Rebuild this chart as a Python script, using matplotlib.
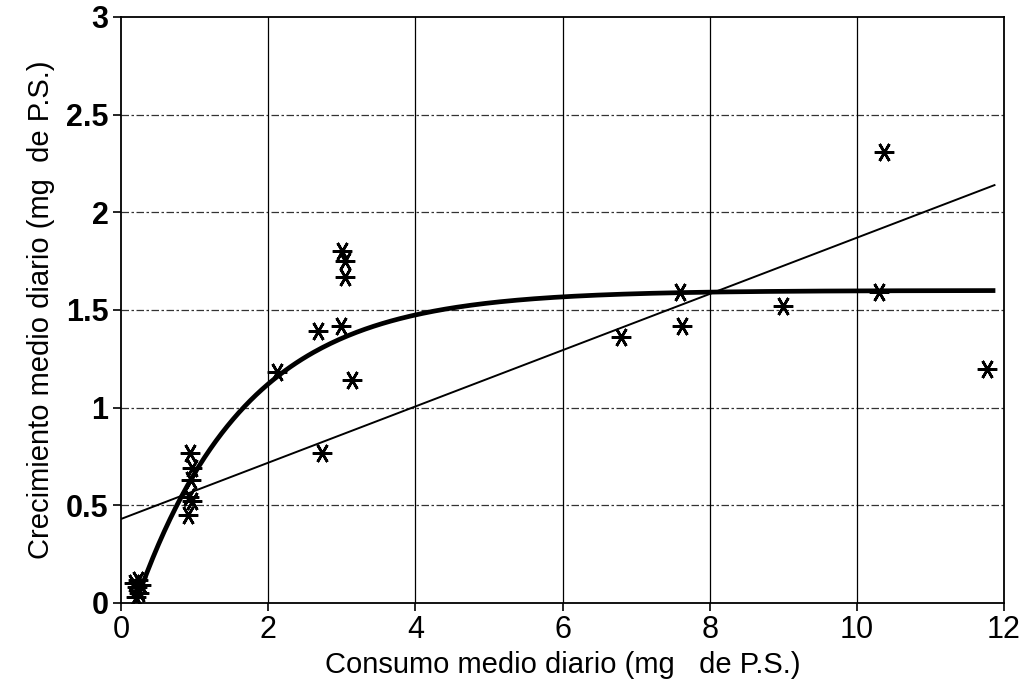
import numpy as np
import matplotlib
matplotlib.use("Agg")
import matplotlib.pyplot as plt

plt.rcParams['font.family'] = ['Liberation Sans', 'DejaVu Sans']

# Observed data (consumo, crecimiento)
consumo = [0.18, 0.22, 0.25, 0.20, 0.27, 0.23,
           0.94, 0.96, 0.95, 0.92, 0.96, 0.91,
           2.12, 3.00, 3.04, 3.04, 2.68, 2.99, 3.14, 2.73,
           6.79, 7.60, 7.62, 9.00, 10.30, 10.37, 11.77]
crecimiento = [0.10, 0.08, 0.05, 0.03, 0.09, 0.12,
               0.77, 0.69, 0.63, 0.54, 0.52, 0.45,
               1.18, 1.80, 1.75, 1.67, 1.39, 1.42, 1.14, 0.77,
               1.36, 1.59, 1.42, 1.52, 1.59, 2.31, 1.20]

# Fitted models
asym, rate, x0 = 1.60, 0.67, 0.20      # saturating curve
lin_a, lin_b = 0.43, 0.144             # linear regression
curve_range = (0.20, 11.85)
line_range = (0.0, 11.87)

x_ticks = [0, 2, 4, 6, 8, 10, 12]
y_ticks = [0, 0.5, 1, 1.5, 2, 2.5, 3]
y_tick_labels = ['0', '0.5', '1', '1.5', '2', '2.5', '3']

fig = plt.figure(figsize=(10.28, 6.93), dpi=100)
ax = fig.add_axes([0.1177, 0.1299, 0.8590, 0.8456])

xc = np.linspace(*curve_range, 300)
ax.plot(xc, asym * (1 - np.exp(-rate * (xc - x0))), color='black', lw=3.4, zorder=3)
xl = np.array(line_range)
ax.plot(xl, lin_a + lin_b * xl, color='black', lw=1.4, zorder=3)

ax.plot(consumo, crecimiento, linestyle='none', marker=(6, 2, 90), markersize=14,
        markeredgewidth=1.9, color='black', zorder=4)

ax.set_xlim(0, 12)
ax.set_ylim(0, 3)
ax.set_xticks(x_ticks)
ax.set_yticks(y_ticks)
ax.set_yticklabels(y_tick_labels)

for v in x_ticks[1:-1]:
    ax.axvline(v, color='black', lw=0.9, zorder=1)
for v in y_ticks[1:-1]:
    ax.axhline(v, color='black', lw=0.9, linestyle=(0, (6, 2, 2, 2)), alpha=0.8, zorder=1)

for s in ax.spines.values():
    s.set_linewidth(1.3)

ax.tick_params(axis='both', direction='out', length=6, width=1.2, pad=3)
for lab in ax.get_yticklabels():
    lab.set_fontsize(22)
    lab.set_fontweight('bold')
for lab in ax.get_xticklabels():
    lab.set_fontsize(22)
ax.set_xlabel('Consumo medio diario (mg   de P.S.)', fontsize=21, labelpad=4)
ax.set_ylabel('Crecimiento medio diario (mg  de P.S.)', fontsize=21, labelpad=8)

fig.savefig('out.png', dpi=100)
